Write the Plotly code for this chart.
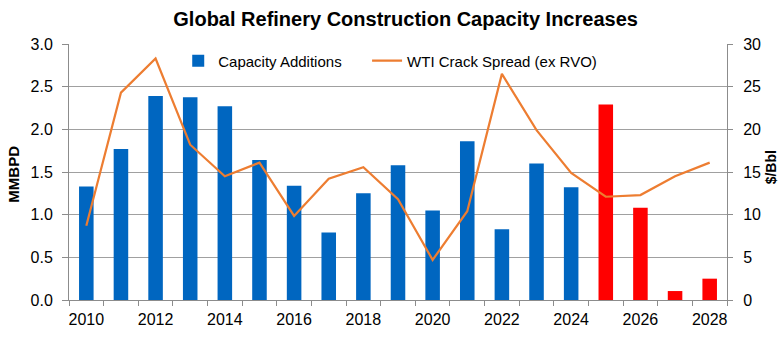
import plotly.graph_objects as go

years = list(range(2010, 2029))
capacity = [1.33, 1.77, 2.39, 2.375, 2.27, 1.64, 1.34, 0.79, 1.25, 1.58,
            1.05, 1.86, 0.83, 1.60, 1.32, 2.29, 1.08, 0.105, 0.25]
crack = [8.7, 24.3, 28.3, 18.2, 14.5, 16.1, 9.85, 14.2, 15.55, 11.8,
         4.7, 10.4, 26.5, 19.9, 14.9, 12.1, 12.3, 14.5, 16.1]
forecast_start = 2025
bar_colors = ["#FF0000" if y >= forecast_start else "#0066C0" for y in years]

font_family = "Liberation Sans, Arial, sans-serif"

fig = go.Figure()
fig.add_trace(go.Bar(
    x=years, y=capacity, name="Capacity Additions",
    marker=dict(color=bar_colors, line=dict(width=0)),
    width=0.42, yaxis="y", legend="legend",
))
fig.add_trace(go.Scatter(
    x=years, y=crack, name="WTI Crack Spread (ex RVO)",
    mode="lines", line=dict(color="#ED7D31", width=2.2), yaxis="y2",
    legend="legend2",
))

legend_common = dict(orientation="h", yanchor="middle", y=0.934,
                     bgcolor="rgba(0,0,0,0)", font=dict(size=15), itemwidth=30)

fig.update_layout(
    width=780, height=353,
    margin=dict(l=69, r=53, t=44, b=53),
    paper_bgcolor="white", plot_bgcolor="white",
    font=dict(family=font_family, size=16, color="#000000"),
    title=dict(text="<b>Global Refinery Construction Capacity Increases</b>",
               x=0.52, xanchor="center", y=0.945, yanchor="middle",
               font=dict(size=20, family=font_family)),
    showlegend=True,
    legend=dict(x=0.166, xanchor="left", **legend_common),
    legend2=dict(x=0.453, xanchor="left", **legend_common),
    xaxis=dict(range=[2009.5, 2028.5], tickmode="linear", tick0=2010, dtick=2,
               showgrid=False, zeroline=False, showline=True, linecolor="#8C8C8C",
               ticks="", tickfont=dict(size=16), ticklabelstandoff=5,
               minor=dict(ticks="outside", tick0=2009.5, dtick=1, ticklen=5,
                          tickcolor="#8C8C8C", showgrid=False)),
    yaxis=dict(range=[0, 3], dtick=0.5, tickformat=".1f", showgrid=True,
               gridcolor="#A0A0A0", gridwidth=1, zeroline=False, showline=True,
               linecolor="#8C8C8C", ticks="outside", ticklen=6, tickcolor="#8C8C8C",
               tickfont=dict(size=16), ticklabelstandoff=6),
    yaxis2=dict(range=[0, 30], dtick=5, overlaying="y", side="right",
                showgrid=False, zeroline=False, showline=True, linecolor="#8C8C8C",
                ticks="outside", ticklen=5, tickcolor="#8C8C8C",
                tickfont=dict(size=16), ticklabelstandoff=7),
    annotations=[
        dict(text="<b>MMBPD</b>", textangle=-90, xref="paper", yref="paper",
             x=-0.085, y=0.49, xanchor="center", yanchor="middle", showarrow=False,
             font=dict(size=15)),
        dict(text="<b>$/Bbl</b>", textangle=-90, xref="paper", yref="paper",
             x=1.066, y=0.52, xanchor="center", yanchor="middle", showarrow=False,
             font=dict(size=14)),
    ],
)

fig.write_html("out.html")
